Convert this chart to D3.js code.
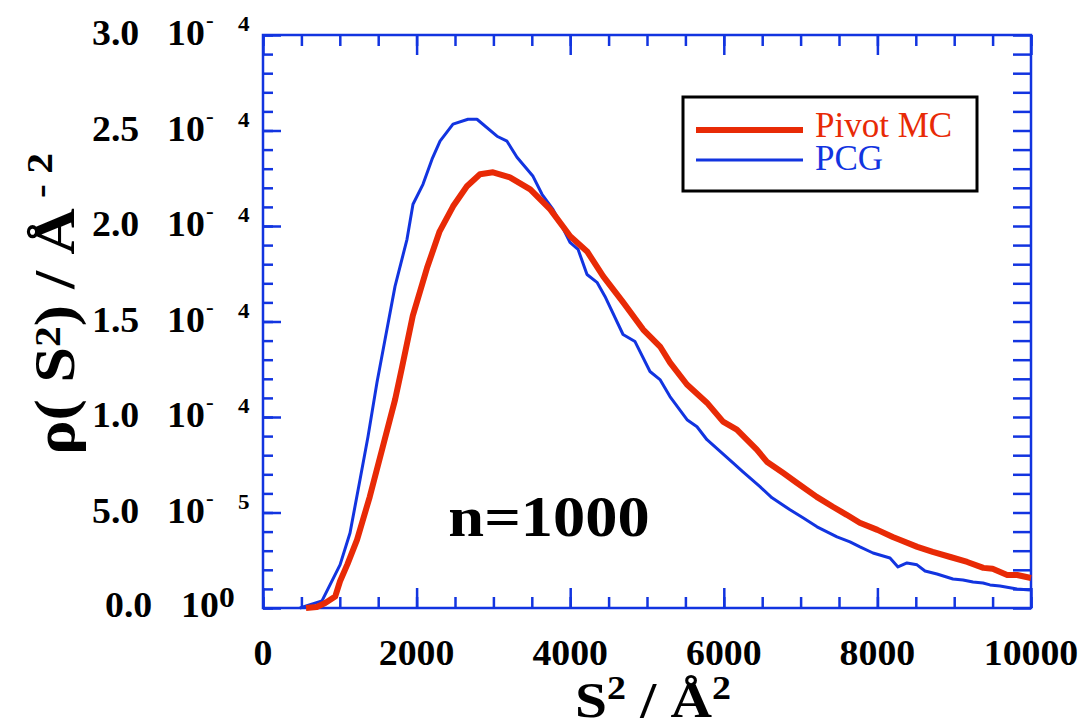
<!DOCTYPE html>
<html>
<head>
<meta charset="utf-8">
<script src="https://cdn.jsdelivr.net/npm/d3@7"></script>
<style>
  body { margin: 0; background: #fff; }
  svg { display: block; }
  text { font-family: "Liberation Serif", "Times New Roman", serif; }
</style>
</head>
<body>
<script>
// S^2 values (Å^2) and rho(S^2) values in units of 1e-4 Å^-2
const pivotX = [560, 700, 810, 940, 1003, 1100, 1224, 1390, 1560, 1720, 1810, 1950, 2135, 2300, 2475, 2655, 2825, 2995,
  3215, 3480, 3740, 4000, 4220, 4430, 4690, 4950, 5170, 5300, 5520, 5780, 5990, 6170, 6430, 6560, 6770, 6950,
  7210, 7420, 7600, 7770, 8000, 8200, 8290, 8520, 8720, 8950, 9170, 9380, 9500, 9690, 9820, 10000];
const pivotY = [0, 0.005, 0.026, 0.06, 0.14, 0.23, 0.357, 0.582, 0.844, 1.091, 1.26, 1.53, 1.78, 1.972, 2.103, 2.208, 2.271, 2.281,
  2.255, 2.192, 2.087, 1.946, 1.867, 1.736, 1.600, 1.458, 1.369, 1.285, 1.170, 1.075, 0.976, 0.934, 0.829, 0.766, 0.708, 0.656,
  0.582, 0.530, 0.488, 0.446, 0.409, 0.372, 0.357, 0.320, 0.294, 0.267, 0.241, 0.210, 0.205, 0.173, 0.173, 0.157];

const pcgX = [480, 521, 768, 1003, 1133, 1263, 1367, 1484, 1589, 1719, 1875, 1953, 2083, 2201, 2305, 2474, 2669, 2786,
  3047, 3177, 3307, 3516, 3633, 3776, 3867, 3997, 4102, 4219, 4349, 4453, 4688, 4844, 5039, 5169, 5299, 5521,
  5651, 5781, 6120, 6250, 6471, 6628, 6862, 7031, 7214, 7344, 7474, 7643, 7773, 7943, 8164, 8268, 8385, 8516,
  8620, 8776, 8984, 9115, 9245, 9375, 9466, 9596, 9818, 9987];
const pcgY = [0, 0.005, 0.037, 0.226, 0.393, 0.671, 0.897, 1.180, 1.406, 1.684, 1.930, 2.114, 2.218, 2.350, 2.444, 2.533, 2.559, 2.559,
  2.470, 2.444, 2.360, 2.260, 2.166, 2.087, 2.019, 1.914, 1.878, 1.746, 1.705, 1.631, 1.432, 1.395, 1.238, 1.196, 1.107, 0.986,
  0.949, 0.881, 0.760, 0.713, 0.635, 0.577, 0.514, 0.472, 0.425, 0.399, 0.372, 0.346, 0.320, 0.288, 0.262, 0.215, 0.236, 0.226,
  0.194, 0.178, 0.152, 0.147, 0.136, 0.131, 0.121, 0.115, 0.100, 0.094];

const xTicks = [0, 2000, 4000, 6000, 8000, 10000];
const xTickLabels = ["0", "2000", "4000", "6000", "8000", "10000"];
const yTicks = [0, 0.5, 1.0, 1.5, 2.0, 2.5, 3.0];
const yTickMant = ["0.0", "5.0", "1.0", "1.5", "2.0", "2.5", "3.0"];
const yTickExp = ["0", "5", "4", "4", "4", "4", "4"];
const seriesNames = ["Pivot MC", "PCG"];

const W = 1089, H = 722;
const red = "#e82a06", blue = "#1234e0";
const stretch = 1.05;

const svg = d3.select("body").append("svg").attr("width", W).attr("height", H);

const x = d3.scaleLinear().domain([0, 10000]).range([263, 1031]);
const y = d3.scaleLinear().domain([0, 3.0]).range([608, 35]);

const xMinor = d3.range(0, 10001, 500);
const yMinor = d3.range(0, 31).map(d => d / 10);

function ticks(axis, tx, ty) {
  const g = svg.append("g").attr("transform", `translate(${tx},${ty})`).call(axis);
  g.select(".domain").remove();
  g.selectAll("line").attr("stroke", blue).attr("stroke-width", 2.5);
}

// inward ticks on all four sides
ticks(d3.axisBottom(x).tickValues(xMinor).tickSize(-11).tickFormat(""), 0, 608);
ticks(d3.axisBottom(x).tickValues(xTicks).tickSize(-20).tickFormat(""), 0, 608);
ticks(d3.axisTop(x).tickValues(xMinor).tickSize(-11).tickFormat(""), 0, 35);
ticks(d3.axisTop(x).tickValues(xTicks).tickSize(-20).tickFormat(""), 0, 35);
ticks(d3.axisLeft(y).tickValues(yMinor).tickSize(-10).tickFormat(""), 263, 0);
ticks(d3.axisLeft(y).tickValues(yTicks).tickSize(-18).tickFormat(""), 263, 0);
ticks(d3.axisRight(y).tickValues(yMinor).tickSize(-18).tickFormat(""), 1031, 0);

svg.append("rect")
  .attr("x", 263).attr("y", 35).attr("width", 768).attr("height", 573)
  .attr("fill", "none").attr("stroke", blue).attr("stroke-width", 2.5);

// curves
const line = d3.line().x(d => x(d[0])).y(d => y(d[1]));
svg.append("path").datum(d3.zip(pcgX, pcgY))
  .attr("d", line).attr("fill", "none").attr("stroke", blue).attr("stroke-width", 3)
  .attr("stroke-linejoin", "round");
svg.append("path").datum(d3.zip(pivotX, pivotY))
  .attr("d", line).attr("fill", "none").attr("stroke", red).attr("stroke-width", 6)
  .attr("stroke-linejoin", "round");

function label(px, py, s, size, anchor, sx) {
  return svg.append("text")
    .attr("transform", `translate(${px},${py}) scale(${sx || stretch},1)`)
    .attr("font-size", size).attr("font-weight", "bold")
    .attr("text-anchor", anchor || "start").text(s);
}

// x tick labels
xTicks.forEach((v, i) => label(x(v), 665, xTickLabels[i], 36, "middle"));

// y tick labels, "m.m 10- e" style
yTicks.forEach((v, i) => {
  const cy = y(v);
  if (i === 0) {
    label(105, cy + 9, yTickMant[i], 36);
    label(181, cy + 9, "10", 36);
    label(219, cy - 1, yTickExp[i], 30);
  } else {
    label(92, cy + 10, yTickMant[i], 36);
    label(167, cy + 10, "10", 36);
    label(206, cy - 8, "-", 22);
    label(238, cy - 4, yTickExp[i], 22);
  }
});

// axis titles
const xt = svg.append("text")
  .attr("transform", `translate(653,717) scale(1.15,1)`)
  .attr("font-size", 50).attr("font-weight", "bold").attr("text-anchor", "middle");
xt.append("tspan").text("S");
xt.append("tspan").attr("font-size", 33).attr("dy", -18).text("2");
xt.append("tspan").attr("dy", 18).text(" / Å");
xt.append("tspan").attr("font-size", 33).attr("dy", -18).text("2");

const yt = svg.append("text")
  .attr("transform", "translate(74,304) rotate(-90) scale(1.15,1)")
  .attr("font-size", 56).attr("font-weight", "bold").attr("text-anchor", "middle");
yt.append("tspan").text("ρ( S");
yt.append("tspan").attr("font-size", 36).attr("dy", -14).text("2");
yt.append("tspan").attr("dy", 14).text(") / Å");
yt.append("tspan").attr("font-size", 36).attr("dy", -22).text(" - 2");

// annotation
label(549, 536, "n=1000", 56, "middle", 1.15);

// legend
svg.append("rect")
  .attr("x", 683).attr("y", 97).attr("width", 294).attr("height", 94)
  .attr("fill", "#fff").attr("stroke", "#000").attr("stroke-width", 3);
const legend = [
  { name: seriesNames[0], color: red, width: 6, ly: 130, ty: 137 },
  { name: seriesNames[1], color: blue, width: 3, ly: 160, ty: 170 }
];
legend.forEach(d => {
  svg.append("line").attr("x1", 696).attr("x2", 803).attr("y1", d.ly).attr("y2", d.ly)
    .attr("stroke", d.color).attr("stroke-width", d.width);
  svg.append("text").attr("x", 815).attr("y", d.ty)
    .attr("font-size", 35).attr("fill", d.color).text(d.name);
});
</script>
</body>
</html>
